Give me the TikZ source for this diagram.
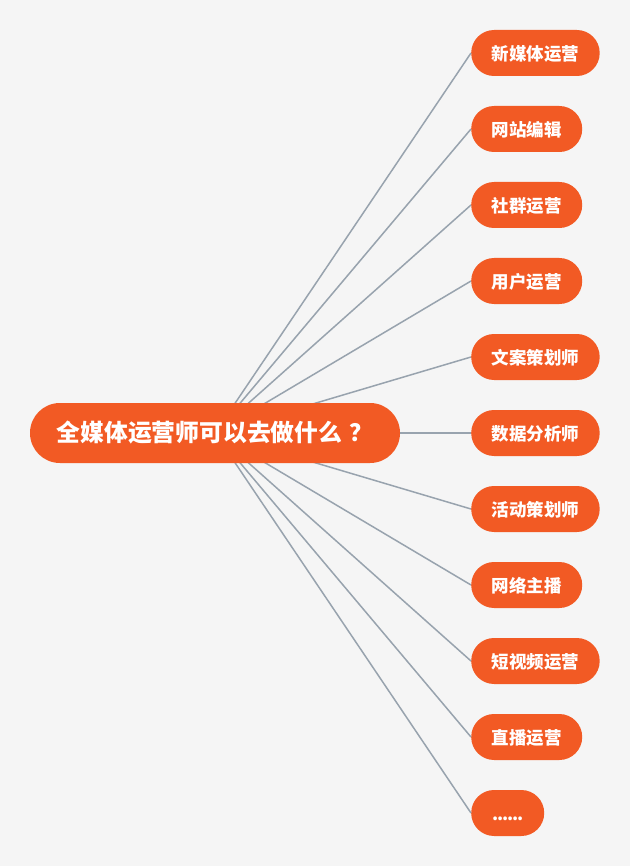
\documentclass[tikz,border=0pt]{standalone}
\usepackage{fontspec}
\newfontfamily\cjk{Noto Sans CJK SC}
\definecolor{bg}{HTML}{F5F5F5}
\definecolor{org}{HTML}{F25A24}
\definecolor{ln}{HTML}{98A3AE}
\tikzset{
  leaf/.style={fill=org, rounded corners=22.9pt, minimum height=46pt, inner xsep=20.5pt, inner ysep=0pt, text height=16.5pt, text depth=2pt, anchor=west, text=white, font=\cjk\bfseries\fontsize{17.5}{20}\selectfont},
  root/.style={fill=org, rounded corners=29.9pt, minimum height=60pt, minimum width=370pt, text=white, font=\cjk\bfseries\fontsize{23.8}{27}\selectfont},
  conn/.style={draw=ln, line width=1.5pt}
}
\begin{document}
\begin{tikzpicture}[x=1pt,y=1pt]
\fill[bg] (0,0) rectangle (630,-866);
\useasboundingbox (0,0) rectangle (630,-866);
\coordinate (c) at (215,-433);
\node[leaf] (n1) at (471,-53) {新媒体运营};
\node[leaf] (n2) at (471,-129) {网站编辑};
\node[leaf] (n3) at (471,-205) {社群运营};
\node[leaf] (n4) at (471,-281) {用户运营};
\node[leaf] (n5) at (471,-357) {文案策划师};
\node[leaf] (n6) at (471,-433) {数据分析师};
\node[leaf] (n7) at (471,-509) {活动策划师};
\node[leaf] (n8) at (471,-585) {网络主播};
\node[leaf] (n9) at (471,-661) {短视频运营};
\node[leaf] (n10) at (471,-737) {直播运营};
\node[leaf, inner xsep=0pt, minimum width=73pt] (n11) at (471,-813) {.\kern-1.1pt.\kern-1.1pt.\kern-1.1pt.\kern-1.1pt.\kern-1.1pt.};
\foreach \i in {1,...,11} { \draw[conn] (c) -- (n\i.west); }
\node[root] (root) at (c) {全媒体运营师可以去做什么\hspace{0.3em}？};
\end{tikzpicture}
\end{document}
